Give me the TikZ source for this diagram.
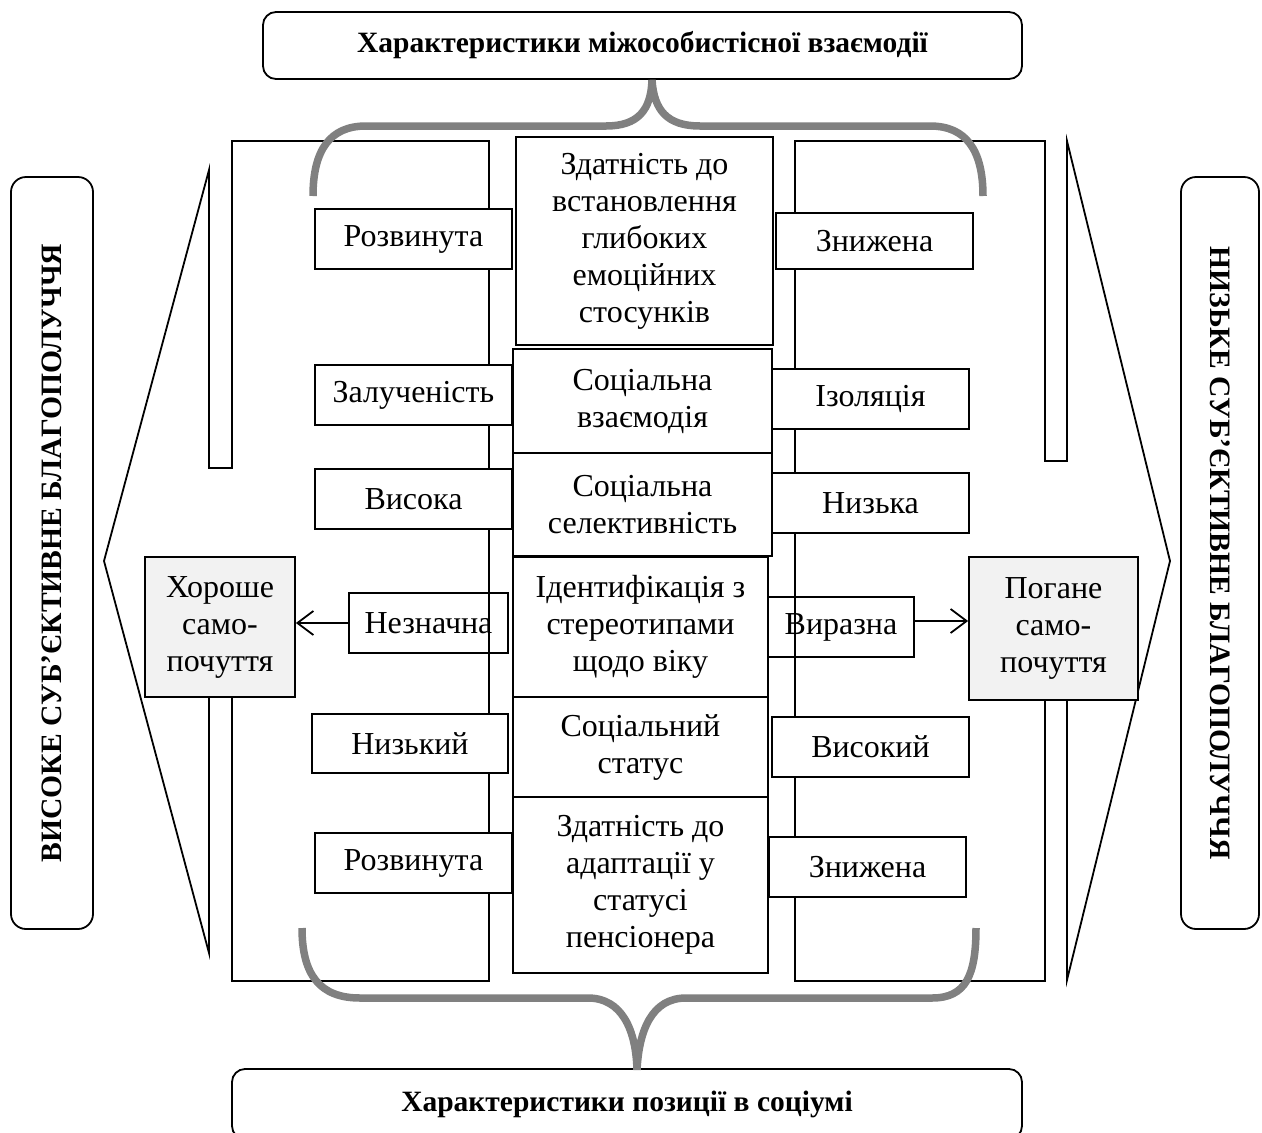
\documentclass[tikz,border=0pt]{standalone}
\usepackage{fontspec}
\setmainfont{Liberation Serif}
\usetikzlibrary{arrows.meta}
\definecolor{bracegray}{HTML}{808080}
\definecolor{boxgray}{HTML}{F2F2F2}
\begin{document}
\begin{tikzpicture}[x=1pt,y=-1pt,line width=1.8pt,
  txt/.style={font=\fontsize{32}{37}\selectfont},
  sbox/.style={draw,fill=white,inner sep=1pt,align=center,txt},
  obox/.style={draw,inner sep=1pt,align=center,txt},
  gbox/.style={draw,fill=boxgray,inner sep=1pt,align=center,txt},
  hbox/.style={draw,fill=white,rounded corners=13pt,inner sep=2pt,align=center,font=\bfseries\fontsize{29.5}{34}\selectfont},
  vbox/.style={draw,fill=white,rounded corners=15pt,inner sep=2pt,align=center,font=\bfseries\fontsize{29.6}{34}\selectfont},
  brace/.style={draw=bracegray,line width=7.5pt},
  callout/.style={draw,fill=white,line width=1.8pt},
  arr/.style={-{Straight Barb[length=16pt,width=24pt,line width=1.8pt]}}
]
\useasboundingbox (0,0) rectangle (1262,1133);
\clip (0,0) rectangle (1262,1133);

% callout shapes
\draw[callout] (232,141) -- (489,141) -- (489,981) -- (232,981) -- (232,650) -- (209,650)
  -- (209,953) -- (104,561) -- (209,170) -- (209,468) -- (232,468) -- cycle;
\draw[callout] (795,141) -- (1045,141) -- (1045,461) -- (1067,461) -- (1067,141)
  -- (1170,561) -- (1067,980) -- (1067,650) -- (1045,650) -- (1045,981) -- (795,981) -- cycle;

% header boxes
\node[hbox,minimum width=759pt,minimum height=67pt] (top) at (642.5,45.5) {Характеристики міжособистісної взаємодії};
\node[hbox,minimum width=790pt,minimum height=70pt] (bot) at (627,1104) {Характеристики позиції в соціумі};

% braces
\coordinate (tl) at (313,196);
\coordinate (tr) at (983,196);
\coordinate (tt) at (652,80);
\draw[brace] (tl) .. controls (313,150) and (330,126) .. (366,126) -- (606,126)
  .. controls (638,126) and (651,110) .. (tt)
  .. controls (654,110) and (667,126) .. (700,126) -- (930,126)
  .. controls (966,126) and (983,150) .. (tr);
\coordinate (bl) at (302,928);
\coordinate (br) at (976,928);
\coordinate (bt) at (637,1070);
\draw[brace] (bl) .. controls (302,975) and (320,998) .. (360,998) -- (588,998)
  .. controls (622,998) and (636,1030) .. (bt)
  .. controls (639,1030) and (652,998) .. (686,998) -- (932,998)
  .. controls (966,998) and (976,975) .. (br);

% vertical labels
\node[vbox,rotate=90,minimum width=752pt,minimum height=82pt] (vl) at (52,553) {ВИСОКЕ СУБ’ЄКТИВНЕ БЛАГОПОЛУЧЧЯ};
\node[vbox,rotate=-90,minimum width=752pt,minimum height=78pt] (vr) at (1220,553) {НИЗЬКЕ СУБ’ЄКТИВНЕ БЛАГОПОЛУЧЧЯ};

% centre column
\node[sbox,minimum width=257pt,minimum height=208pt] (c1) at (644.5,241) {Здатність до\\встановлення\\глибоких\\емоційних\\стосунків};
\node[sbox,minimum width=259pt,minimum height=104pt] (c2) at (642.5,401) {Соціальна\\взаємодія};
\node[sbox,minimum width=259pt,minimum height=103pt] (c3) at (642.5,504.5) {Соціальна\\селективність};
\node[sbox,minimum width=255pt,minimum height=140pt] (c4) at (640.5,627) {Ідентифікація з\\стереотипами\\щодо віку};
\node[sbox,minimum width=255pt,minimum height=100pt] (c5) at (640.5,747) {Соціальний\\статус};
\node[sbox,minimum width=255pt,minimum height=176pt] (c6) at (640.5,885) {Здатність до\\адаптації у\\статусі\\пенсіонера};

% left column
\node[sbox,minimum width=197pt,minimum height=60pt] (l1) at (413.5,239) {Розвинута};
\node[sbox,minimum width=197pt,minimum height=60pt] (l2) at (413.5,395) {Залученість};
\node[sbox,minimum width=197pt,minimum height=60pt] (l3) at (413.5,499) {Висока};
\node[obox,minimum width=159pt,minimum height=60pt] (l4) at (428.5,623) {Незначна};
\node[sbox,minimum width=196pt,minimum height=59pt] (l5) at (410,743.5) {Низький};
\node[sbox,minimum width=197pt,minimum height=60pt] (l6) at (413.5,863) {Розвинута};

% right column
\node[sbox,minimum width=197pt,minimum height=56pt] (r1) at (874.5,241) {Знижена};
\node[sbox,minimum width=197pt,minimum height=60pt] (r2) at (870.5,399) {Ізоляція};
\node[sbox,minimum width=197pt,minimum height=60pt] (r3) at (870.5,503) {Низька};
\node[obox,minimum width=146pt,minimum height=60pt] (r4) at (841,627) {Виразна};
\node[sbox,minimum width=197pt,minimum height=60pt] (r5) at (870.5,747) {Високий};
\node[sbox,minimum width=197pt,minimum height=60pt] (r6) at (867.5,867) {Знижена};

% wellbeing boxes
\node[gbox,minimum width=150pt,minimum height=140pt] (good) at (220,627) {Хороше\\само-\\почуття};
\node[gbox,minimum width=169pt,minimum height=143pt] (bad) at (1053.5,628.5) {Погане\\само-\\почуття};

% arrows
\draw[arr] (l4.west) -- (l4.west -| good.east);
\draw[arr] ([yshift=6pt]r4.east) -- ([yshift=6pt]r4.east -| bad.west);
\end{tikzpicture}
\end{document}
